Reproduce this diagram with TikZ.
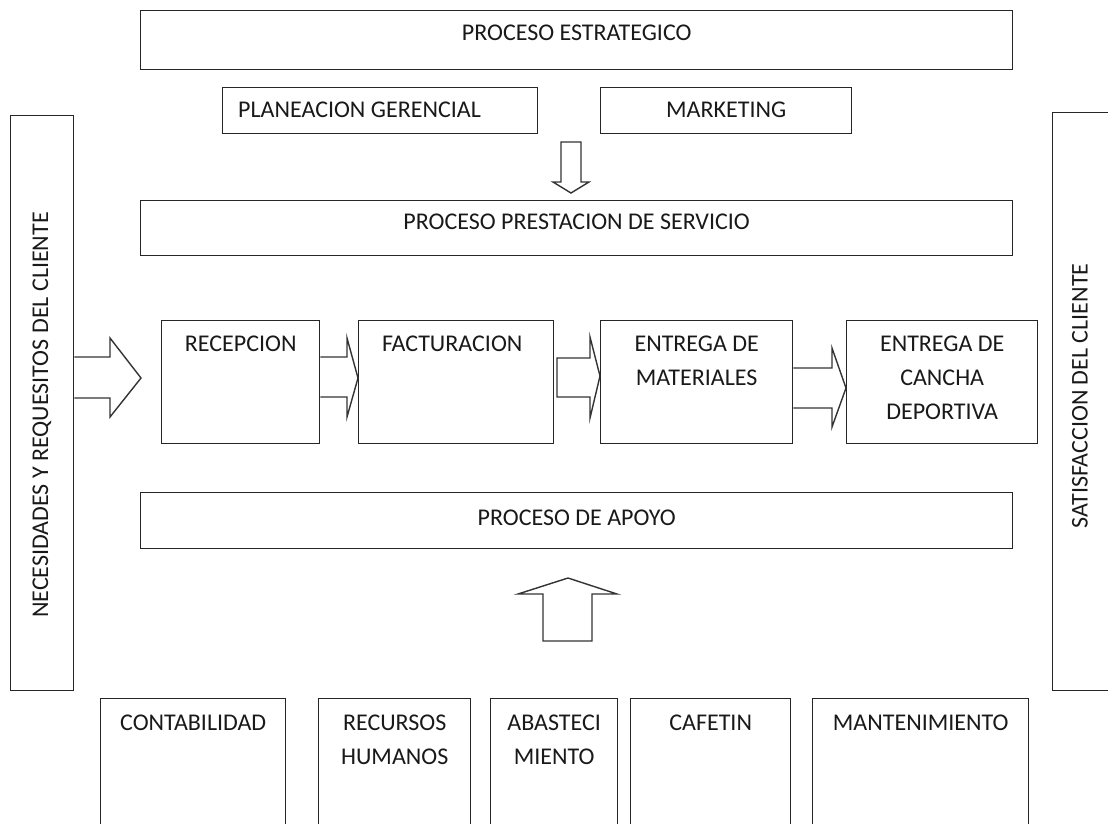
\documentclass[tikz,border=0pt]{standalone}
\usepackage{fontspec}
\setmainfont{Carlito}
\usetikzlibrary{calc}
\begin{document}
\begin{tikzpicture}[x=1pt,y=-1pt,
  box/.style={draw=black!85, line width=1.4pt, inner sep=0pt, anchor=north west},
  lbl/.style={font=\fontsize{24}{34}\selectfont, align=center, inner sep=0pt, text=black!90},
  blk/.style={draw=black!80, line width=1.4pt, line join=miter, fill=white}]
\useasboundingbox (0,0) rectangle (1108,823);
\fill[white] (0,0) rectangle (1108,823);
\clip (0,0) rectangle (1108,823);

% strategic level
\node[box, minimum width=872, minimum height=59] (est) at (140,10) {};
\node[box, minimum width=315, minimum height=46] (pla) at (222,87) {};
\node[box, minimum width=251, minimum height=46] (mkt) at (600,87) {};
\node[lbl, anchor=north] (test) at ($(est.north)+(0,15)$) {PROCESO ESTRATEGICO};
\node[lbl, anchor=north west] (tpla) at ($(pla.north west)+(16,15)$) {PLANEACION GERENCIAL};
\node[lbl, anchor=north] (tmkt) at ($(mkt.north)+(0,15)$) {MARKETING};

% service level
\node[box, minimum width=872, minimum height=55] (pres) at (140,200) {};
\node[lbl, anchor=north] (tpres) at ($(pres.north)+(0,14)$) {PROCESO PRESTACION DE SERVICIO};

% customer side bars
\node[box, minimum width=63, minimum height=575] (nec) at (10,115) {};
\node[box, minimum width=70, minimum height=578] (sat) at (1052,112) {};
\node[lbl, rotate=90] (tnec) at (42,415) {NECESIDADES Y REQUESITOS DEL CLIENTE};
\node[lbl, rotate=90] (tsat) at (1080,396) {SATISFACCION DEL CLIENTE};

% process chain
\node[box, minimum width=158, minimum height=123] (rec) at (161,320) {};
\node[box, minimum width=195, minimum height=123] (fac) at (358,320) {};
\node[box, minimum width=192, minimum height=123] (mat) at (600,320) {};
\node[box, minimum width=191, minimum height=123] (can) at (846,320) {};
\node[lbl, anchor=north] (trec) at ($(rec.north)+(0,16)$) {RECEPCION};
\node[lbl, anchor=north] (tfac) at ($(fac.north)+(-4,16)$) {FACTURACION};
\node[lbl, anchor=north] (tmat) at ($(mat.north)+(0,16)$) {ENTREGA DE\\MATERIALES};
\node[lbl, anchor=north] (tcan) at ($(can.north)+(0,16)$) {ENTREGA DE\\CANCHA\\DEPORTIVA};

% support level
\node[box, minimum width=872, minimum height=56] (apo) at (140,492) {};
\node[lbl, anchor=north] (tapo) at ($(apo.north)+(0,18)$) {PROCESO DE APOYO};

\node[box, minimum width=185, minimum height=140] (con) at (100,698) {};
\node[box, minimum width=152, minimum height=140] (rrhh) at (318,698) {};
\node[box, minimum width=127, minimum height=140] (aba) at (490,698) {};
\node[box, minimum width=160, minimum height=140] (caf) at (630,698) {};
\node[box, minimum width=216, minimum height=140] (man) at (812,698) {};
\node[lbl, anchor=north] (tcon) at ($(con.north)+(0,17)$) {CONTABILIDAD};
\node[lbl, anchor=north] (trrhh) at ($(rrhh.north)+(0,17)$) {RECURSOS\\HUMANOS};
\node[lbl, anchor=north] (taba) at ($(aba.north)+(0,17)$) {ABASTECI\\MIENTO};
\node[lbl, anchor=north] (tcaf) at ($(caf.north)+(0,17)$) {CAFETIN};
\node[lbl, anchor=north] (tman) at ($(man.north)+(0,17)$) {MANTENIMIENTO};

% block arrows between the process stages
\draw[blk] (nec.east |- 0,357) -- (110,357) -- (110,338) -- (141,378)
  -- (110,417) -- (110,398) -- (nec.east |- 0,398);
\draw[blk] (rec.east |- 0,357) -- (347,357) -- (347,338) -- (fac.west |- 0,378)
  -- (347,417) -- (347,397) -- (rec.east |- 0,397);
\draw[blk] (557,358) -- (590,358) -- (590,337) -- (mat.west |- 0,376)
  -- (590,418) -- (590,397) -- (557,397) -- cycle;
\draw[blk] (mat.east |- 0,368) -- (832,368) -- (832,348) -- (can.west |- 0,388)
  -- (832,427) -- (832,408) -- (mat.east |- 0,408);

% strategic level feeds service level
\draw[blk] (561,142) -- (581,142) -- (581,182) -- (589,182) -- (571,193)
  -- (553,182) -- (561,182) -- cycle;

% support level feeds service level
\draw[blk] (543,641) -- (543,594) -- (518,594) -- (568,578) -- (617,594)
  -- (592,594) -- (592,641) -- cycle;
\end{tikzpicture}
\end{document}
